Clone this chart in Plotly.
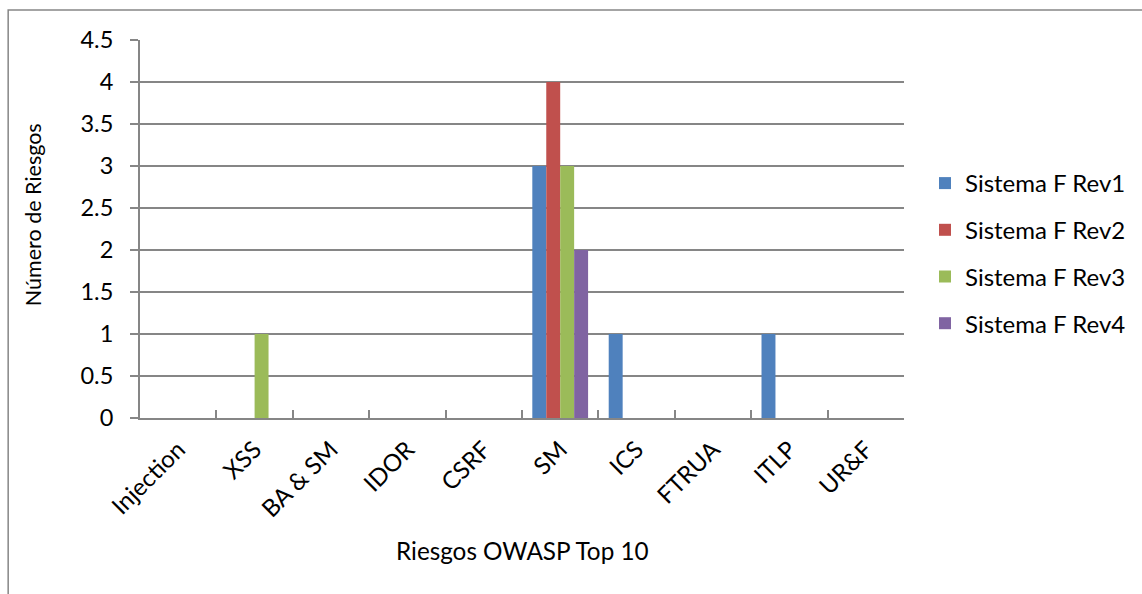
import plotly.graph_objects as go

categories = ["Injection", "XSS", "BA & SM", "IDOR", "CSRF", "SM", "ICS", "FTRUA", "ITLP", "UR&F"]
rev1 = [0, 0, 0, 0, 0, 3, 1, 0, 1, 0]
rev2 = [0, 0, 0, 0, 0, 4, 0, 0, 0, 0]
rev3 = [0, 1, 0, 0, 0, 3, 0, 0, 0, 0]
rev4 = [0, 0, 0, 0, 0, 2, 0, 0, 0, 0]
series_names = ["Sistema F Rev1", "Sistema F Rev2", "Sistema F Rev3", "Sistema F Rev4"]
colors = ["#4F81BD", "#C0504D", "#9BBB59", "#8064A2"]

FONT = "Lato, Open Sans, sans-serif"

fig = go.Figure()
for i, (name, vals) in enumerate(zip(series_names, [rev1, rev2, rev3, rev4])):
    fig.add_trace(go.Bar(x=categories, y=vals, name=name, marker_color=colors[i],
                         marker_line_width=0, legendgroup=f"g{i}"))

L, R, T, B = 140, 237, 40, 176
W, H = 1142, 594
pw, ph = W - L - R, H - T - B

fig.update_layout(
    width=W, height=H,
    margin=dict(l=L, r=R, t=T, b=B),
    paper_bgcolor="white", plot_bgcolor="white",
    barmode="group", bargap=0.27, bargroupgap=0,
    font=dict(family=FONT, color="#000000", size=22),
    legend=dict(x=(925 - L) / pw, y=1 - (161 - T) / ph, xanchor="left", yanchor="top",
                font=dict(size=24, family=FONT), tracegroupgap=12.5, itemwidth=30,
                bgcolor="rgba(0,0,0,0)"),
    xaxis=dict(showgrid=False, showline=True, linecolor="#868686", linewidth=2,
               ticks="inside", tickson="boundaries", ticklen=8, tickcolor="#868686", tickwidth=1.5,
               tickangle=-45, tickfont=dict(size=24, family=FONT), ticklabelstandoff=6),
    yaxis=dict(range=[0, 4.5], dtick=0.5, showgrid=True, gridcolor="#868686", gridwidth=1.5,
               showline=True, linecolor="#868686", linewidth=2,
               ticks="outside", ticklen=8, tickcolor="#868686", tickwidth=1.5,
               ticklabelstandoff=12, tickfont=dict(size=23.5, family=FONT),
               zeroline=False),
    annotations=[
        dict(text="Riesgos OWASP Top 10", xref="paper", yref="paper",
             x=(523 - L) / pw, y=-(550 - T - ph) / ph, xanchor="center", yanchor="middle",
             showarrow=False, font=dict(size=24.3, family=FONT)),
        dict(text="Número de Riesgos", xref="paper", yref="paper",
             x=(33 - L) / pw, y=(T + ph - 215) / ph, xanchor="center", yanchor="middle",
             textangle=-90, showarrow=False, font=dict(size=21.5, family=FONT)),
    ],
    shapes=[dict(type="rect", xref="paper", yref="paper",
                 x0=(8 - L) / pw, x1=(1160 - L) / pw,
                 y0=-(620 - T - ph) / ph, y1=1 + (T - 10) / ph,
                 line=dict(color="#868686", width=1.5), fillcolor="rgba(0,0,0,0)", layer="below")],
)

fig.write_html("out.html")
